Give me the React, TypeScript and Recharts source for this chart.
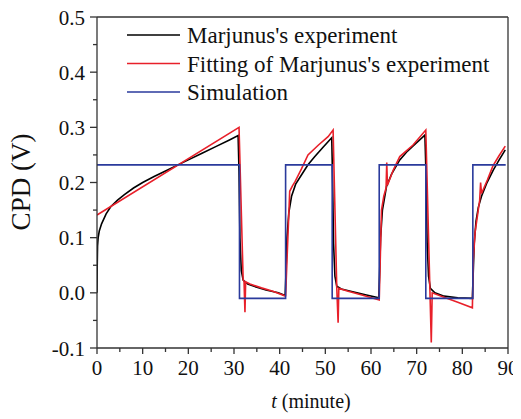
import React from 'react';
import { LineChart, Line, XAxis, YAxis, ReferenceLine, Legend } from 'recharts';

const expT = [0, 0.05, 0.12, 0.25, 0.5, 1, 2, 3, 4.5, 6, 8, 10, 12.5, 15, 17.5, 20, 23, 26, 29, 30.9,
  31.1, 31.3, 31.6, 32, 33, 35, 37, 39.7, 41.2,
  41.4, 41.6, 42, 42.6, 43.5, 44.8, 46.2, 47.7, 49.5, 51.4,
  51.6, 51.8, 52.1, 52.5, 53.5, 56, 59, 61.7,
  61.9, 62.1, 62.5, 63.4, 64.5, 66.3, 68, 70, 71.8,
  72.1, 72.3, 72.6, 73, 74, 76, 79, 82.2,
  82.4, 82.6, 83, 83.5, 84.2, 85.3, 86.8, 88, 89.4];
const expV = [0.0, 0.05, 0.085, 0.1, 0.112, 0.125, 0.143, 0.156, 0.168, 0.178, 0.19, 0.2, 0.211, 0.221, 0.231, 0.241, 0.253, 0.265, 0.277, 0.285,
  0.22, 0.1, 0.04, 0.023, 0.016, 0.01, 0.005, 0.0, -0.005,
  0.04, 0.1, 0.145, 0.175, 0.197, 0.214, 0.232, 0.247, 0.264, 0.281,
  0.2, 0.09, 0.03, 0.012, 0.007, 0.002, -0.004, -0.009,
  0.04, 0.1, 0.15, 0.193, 0.215, 0.241, 0.257, 0.272, 0.286,
  0.2, 0.09, 0.03, 0.008, 0.0, -0.006, -0.009, -0.01,
  0.04, 0.09, 0.13, 0.155, 0.175, 0.198, 0.223, 0.24, 0.259];

const fitT = [0, 31.1, 32.0, 32.2, 32.4, 32.55, 33.5, 36, 38.5, 41.0, 41.3, 42.2, 42.8, 43.4, 44.8, 46.2, 48.5, 50.6, 51.7,
  52.5, 52.8, 52.95, 55, 58, 61.8,
  62.3, 62.8, 63.3, 63.45, 63.6, 64.9, 66.3, 69.2, 72.0,
  72.9, 73.2, 73.4, 76, 79, 82.2,
  82.4, 82.8, 83.4, 83.8, 84.0, 84.2, 85.5, 86.7, 88, 89.4];
const fitV = [0.141, 0.300, 0.025, 0.02, -0.035, 0.02, 0.016, 0.009, 0.003, -0.005, -0.005, 0.184, 0.194, 0.202, 0.225, 0.25, 0.268, 0.283, 0.295,
  0.01, -0.054, 0.008, 0.003, -0.004, -0.013,
  0.15, 0.175, 0.19, 0.236, 0.195, 0.223, 0.247, 0.268, 0.295,
  0.005, -0.09, 0.0, -0.008, -0.017, -0.027,
  0.06, 0.11, 0.145, 0.168, 0.2, 0.18, 0.205, 0.23, 0.248, 0.266];

const simT = [0, 31.2, 31.2, 41.3, 41.3, 51.5, 51.5, 61.8, 61.8, 72.0, 72.0, 82.3, 82.3, 89.5];
const simV = [0.232, 0.232, -0.01, -0.01, 0.232, 0.232, -0.01, -0.01, 0.232, 0.232, -0.01, -0.01, 0.232, 0.232];

const seriesNames = ["Marjunus's experiment", "Fitting of Marjunus's experiment", 'Simulation'];
const seriesColors = ['#000000', '#e8202a', '#2a3a9c'];

const xTicks = [0, 5, 10, 15, 20, 25, 30, 35, 40, 45, 50, 55, 60, 65, 70, 75, 80, 85, 90];
const yTicks = [-0.1, -0.05, 0, 0.05, 0.1, 0.15, 0.2, 0.25, 0.3, 0.35, 0.4, 0.45, 0.5];

const expData = expT.map((t, i) => ({ t, v: expV[i] }));
const fitData = fitT.map((t, i) => ({ t, v: fitV[i] }));
const simData = simT.map((t, i) => ({ t, v: simV[i] }));

const FONT = "'Liberation Serif', 'Times New Roman', serif";
const AXIS = '#333333';
const txt = { fontFamily: FONT };

const XTick = (props: any) => {
  const { x, y, payload } = props;
  const major = Math.round(payload.value) % 10 === 0;
  return (
    <g>
      <line x1={x} y1={y} x2={x} y2={y + (major ? 6 : 4)} stroke={AXIS} strokeWidth={1.3} />
      {major && (
        <text x={x} y={y + 27} textAnchor="middle" style={txt} fontSize={21} fill="#111">
          {payload.value}
        </text>
      )}
    </g>
  );
};

const YTick = (props: any) => {
  const { x, y, payload } = props;
  const major = Math.round(payload.value * 100) % 10 === 0;
  return (
    <g>
      <line x1={x} y1={y} x2={x - (major ? 7 : 4)} y2={y} stroke={AXIS} strokeWidth={1.3} />
      {major && (
        <text x={x - 12} y={y + 7.5} textAnchor="end" style={txt} fontSize={21} fill="#111">
          {Number(payload.value).toFixed(1)}
        </text>
      )}
    </g>
  );
};

const LegendBox = () => (
  <svg width={370} height={100} style={{ display: 'block' }}>
    {seriesNames.map((name, i) => (
      <g key={name}>
        <line x1={0} y1={15 + i * 28.5} x2={53} y2={15 + i * 28.5} stroke={seriesColors[i]} strokeWidth={1.6} />
        <text x={60} y={23 + i * 28.5} style={txt} fontSize={23} fill="#111">{name}</text>
      </g>
    ))}
  </svg>
);

export default function App() {
  return (
    <div style={{ width: 521, height: 419, marginTop: -8, marginLeft: -8 }}>
      <LineChart width={521} height={419} margin={{ top: 17, right: 13, left: 0, bottom: 0 }}>
        <XAxis
          type="number"
          dataKey="t"
          domain={[0, 90]}
          ticks={xTicks}
          interval={0}
          allowDataOverflow
          height={71}
          tickSize={0}
          tickMargin={0}
          tickLine={false}
          axisLine={{ stroke: AXIS, strokeWidth: 1.3 }}
          tick={XTick}
          label={{
            content: () => (
              <text x={311} y={408} textAnchor="middle" style={txt} fontSize={20} fill="#111">
                <tspan fontStyle="italic">t</tspan> (minute)
              </text>
            ),
          }}
        />
        <YAxis
          type="number"
          domain={[-0.1, 0.5]}
          ticks={yTicks}
          interval={0}
          allowDataOverflow
          width={97}
          tickSize={0}
          tickMargin={0}
          tickLine={false}
          axisLine={{ stroke: AXIS, strokeWidth: 1.3 }}
          tick={YTick}
          label={{
            content: () => (
              <text x={30} y={182} textAnchor="middle" style={txt} fontSize={27} fill="#111" transform="rotate(-90, 30, 182)">
                CPD (V)
              </text>
            ),
          }}
        />
        <ReferenceLine y={0.5} stroke={AXIS} strokeWidth={1.3} />
        <ReferenceLine x={90} stroke={AXIS} strokeWidth={1.3} />
        <Line data={expData} dataKey="v" name={seriesNames[0]} stroke={seriesColors[0]} strokeWidth={1.6} dot={false} activeDot={false} isAnimationActive={false} type="linear" />
        <Line data={fitData} dataKey="v" name={seriesNames[1]} stroke={seriesColors[1]} strokeWidth={1.6} dot={false} activeDot={false} isAnimationActive={false} type="linear" />
        <Line data={simData} dataKey="v" name={seriesNames[2]} stroke={seriesColors[2]} strokeWidth={1.6} dot={false} activeDot={false} isAnimationActive={false} type="linear" />
        <Legend
          layout="vertical"
          align="center"
          verticalAlign="middle"
          content={LegendBox}
          wrapperStyle={{ top: 20, left: 127, width: 370, height: 100 }}
        />
      </LineChart>
    </div>
  );
}
